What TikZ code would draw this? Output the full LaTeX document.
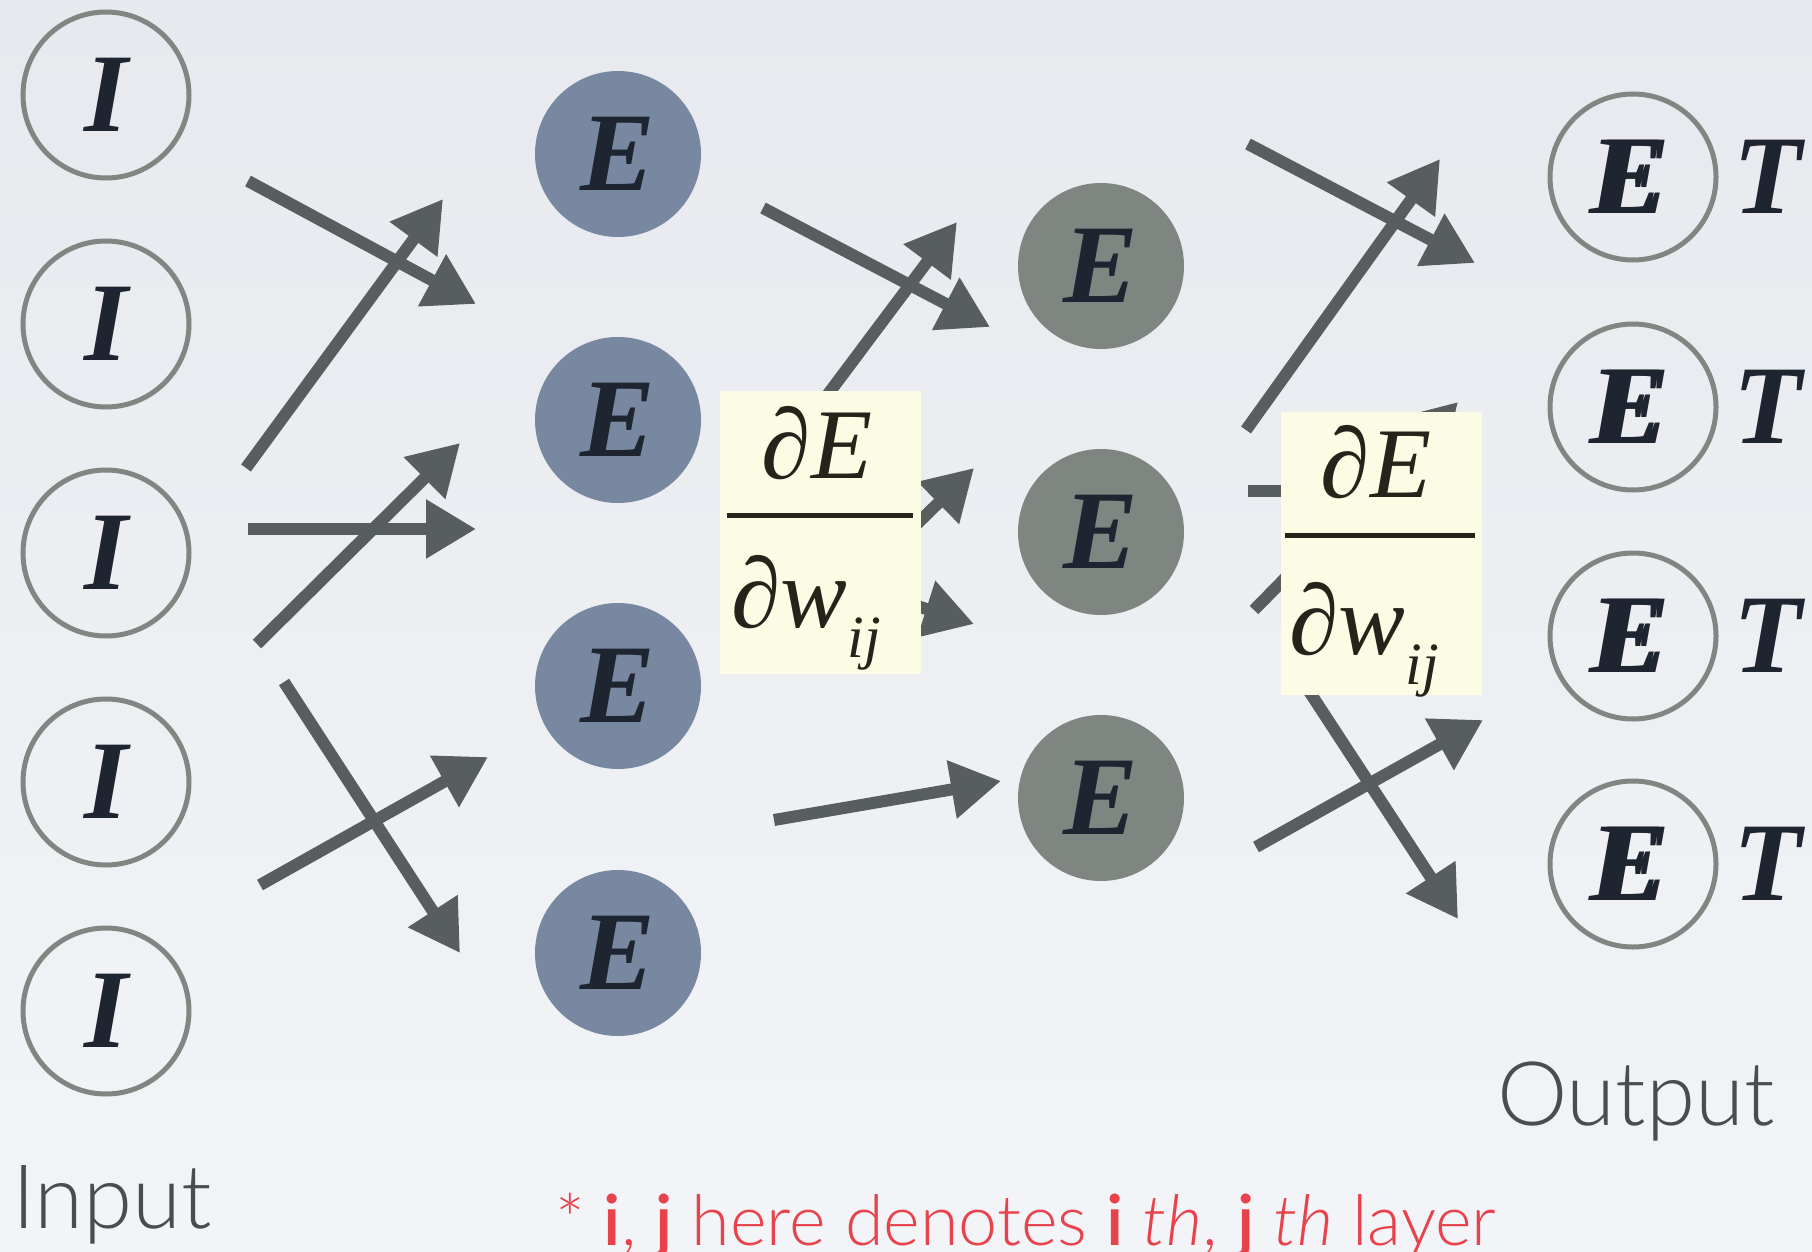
\documentclass[tikz,border=0pt]{standalone}
\usepackage{fontspec}
\setmainfont{Liberation Serif}
\newfontfamily\lightsans{Lato Light}
\usetikzlibrary{arrows.meta}

\definecolor{bgtop}{HTML}{E8E9EE}
\definecolor{bgbot}{HTML}{F3F4F7}
\definecolor{ringgray}{HTML}{808682}
\definecolor{bluefill}{HTML}{7788A0}
\definecolor{grayfill}{HTML}{7F8581}
\definecolor{inkdark}{HTML}{1E2430}
\definecolor{arrowgray}{HTML}{585D5D}
\definecolor{boxyellow}{HTML}{FCFCE4}
\definecolor{fracink}{HTML}{24241A}
\definecolor{footred}{HTML}{E8434C}
\definecolor{labelgray}{HTML}{4A4C4F}

% subscript font of the gradient fractions
\newcommand\fracsubfont{\fontsize{60}{60}\selectfont\itshape}

\begin{document}
\begin{tikzpicture}[x=1pt,y=-1pt,
  bigletter/.style={font=\fontsize{112}{112}\selectfont\bfseries\itshape, text=inkdark, inner sep=0pt},
  ring/.style={bigletter, circle, minimum size=166pt, draw=ringgray, line width=5pt},
  bluenode/.style={bigletter, circle, minimum size=166pt, fill=bluefill},
  graynode/.style={bigletter, circle, minimum size=166pt, fill=grayfill},
  arr/.style={draw=arrowgray, line width=12pt, -{Triangle[length=50pt,width=56pt]}},
  dbox/.style={fill=boxyellow, minimum width=201pt, minimum height=283pt, inner sep=0pt},
  fractxt/.style={font=\fontsize{100}{100}\selectfont, text=fracink, inner sep=0pt},
  fracbar/.style={draw=fracink, line width=5pt},
  caption/.style={font=\lightsans\fontsize{89}{89}\selectfont, text=labelgray, inner sep=0pt}
]
% background
\shade[top color=bgtop, bottom color=bgbot] (0,0) rectangle (1812,1252);
\useasboundingbox (0,0) rectangle (1812,1252);

% input layer
\node[ring] (in1) at (106,95)   {I};
\node[ring] (in2) at (106,324)  {I};
\node[ring] (in3) at (106,553)  {I};
\node[ring] (in4) at (106,782)  {I};
\node[ring] (in5) at (106,1011) {I};

% first hidden layer
\node[bluenode] (h1) at (618,154) {E};
\node[bluenode] (h2) at (618,420) {E};
\node[bluenode] (h3) at (618,686) {E};
\node[bluenode] (h4) at (618,953) {E};

% second hidden layer
\node[graynode] (g1) at (1101,266) {E};
\node[graynode] (g2) at (1101,532) {E};
\node[graynode] (g3) at (1101,798) {E};

% output layer with targets (output letter is struck twice)
\foreach \i/\y in {1/177,2/407,3/636,4/864}{
  \node[ring] (out\i) at (1633,\y) {E};
  \node[bigletter] (oe\i) at (1627,\y) {E};
  \node[bigletter] (t\i) at (1768,\y) {T};
}

% weights between input and first hidden layer
\coordinate (a1s) at (248,181); \coordinate (a1e) at (476,304);
\coordinate (a2s) at (246,468); \coordinate (a2e) at (443,199);
\coordinate (a3s) at (248,529); \coordinate (a3e) at (476,529);
\coordinate (a4s) at (257,644); \coordinate (a4e) at (460,443);
\coordinate (a5s) at (284,682); \coordinate (a5e) at (460,953);
\coordinate (a6s) at (260,885); \coordinate (a6e) at (488,757);
\foreach \k in {1,...,6} \draw[arr] (a\k s) -- (a\k e);

% weights between the hidden layers
\coordinate (b1s) at (763,208); \coordinate (b1e) at (990,327);
\coordinate (b2s) at (745,505); \coordinate (b2e) at (957,222);
\coordinate (b3s) at (870,570); \coordinate (b3e) at (974,468);
\coordinate (b4s) at (860,588); \coordinate (b4e) at (974,624);
\coordinate (b5s) at (774,820); \coordinate (b5e) at (1001,781);
\foreach \k in {1,...,5} \draw[arr] (b\k s) -- (b\k e);

% weights between second hidden layer and output
\coordinate (c1s) at (1248,144); \coordinate (c1e) at (1475,263);
\coordinate (c2s) at (1246,430); \coordinate (c2e) at (1440,159);
\coordinate (c3s) at (1248,491); \coordinate (c3e) at (1470,491);
\coordinate (c4s) at (1254,610); \coordinate (c4e) at (1458,402);
\coordinate (c5s) at (1290,662); \coordinate (c5e) at (1458,919);
\coordinate (c6s) at (1256,847); \coordinate (c6e) at (1483,720);
\foreach \k in {1,...,6} \draw[arr] (c\k s) -- (c\k e);

% gradient labels
\node[dbox] (d1) at (820.5,532) {};
\node[fractxt, anchor=base] (d1num) at (817,478) {∂\textit{E}};
\draw[fracbar] (727,515) -- (913,515);
\node[fractxt, anchor=base west] (d1den) at (731,627)
  {∂\textit{w}\raisebox{-0.3em}{\fracsubfont ij}};

\node[dbox] (d2) at (1381,553) {};
\node[fractxt, anchor=base] (d2num) at (1376,497) {∂\textit{E}};
\draw[fracbar] (1285,535) -- (1475,535);
\node[fractxt, anchor=base west] (d2den) at (1289,654)
  {∂\textit{w}\raisebox{-0.3em}{\fracsubfont ij}};

% captions
\node[caption, anchor=base west] (inlabel) at (12,1228) {Input};
\node[caption, anchor=base west] (outlabel) at (1497,1125) {Output};
\node[font=\lightsans\fontsize{70}{70}\selectfont, text=footred, inner sep=0pt, anchor=base west] (note) at (555,1245)
  {* \textbf{i}, \textbf{j} here denotes \textbf{i} \textit{th}, \textbf{j} \textit{th} layer};
\end{tikzpicture}
\end{document}
